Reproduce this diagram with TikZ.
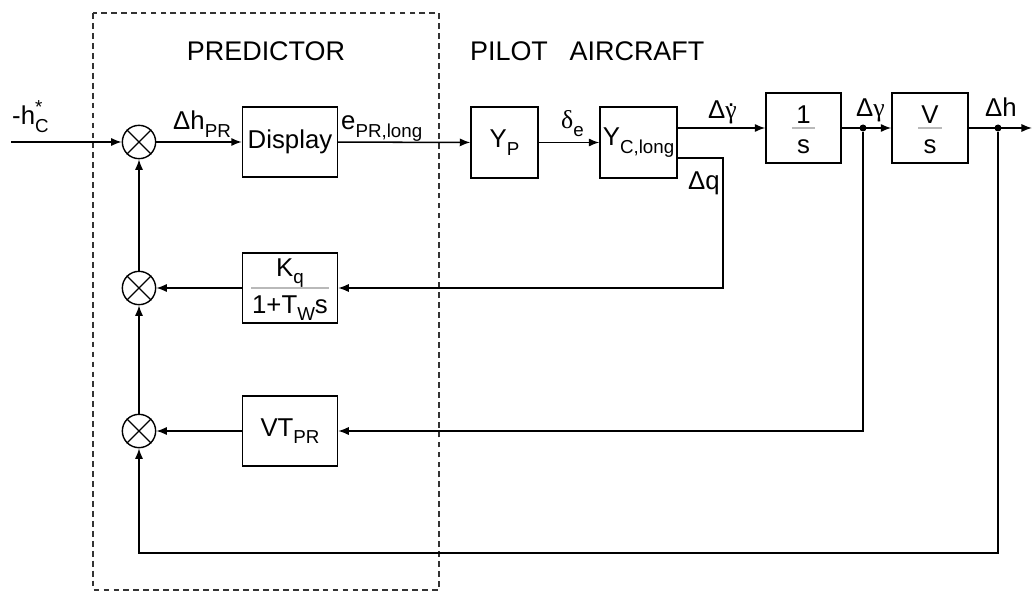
\documentclass[tikz,border=0pt]{standalone}
\usepackage{fontspec}
\setmainfont{Liberation Sans}
\newfontfamily\grk{Liberation Serif}
\usetikzlibrary{arrows.meta,positioning}

\newcommand{\lo}[1]{\raisebox{-0.3em}{\fontsize{16}{16}\selectfont #1}}
\newcommand{\hi}[1]{\raisebox{0.45em}{\fontsize{16}{16}\selectfont #1}}
\newcommand{\gdot}{\ooalign{{\grk γ}\cr\hidewidth\raisebox{0.5em}{.}\hidewidth\cr}}

\tikzset{
  block/.style={draw, line width=1.2pt, inner sep=0pt, minimum width=2.85cm, minimum height=2.1cm},
  sumnode/.style={draw, circle, line width=1.2pt, inner sep=0pt, minimum size=1cm},
  tapdot/.style={circle, fill, inner sep=0pt, minimum size=0.21cm},
  sig/.style={line width=1.3pt, -{Latex[length=9pt,width=7pt]}},
  lbl/.style={anchor=base west, inner sep=0pt},
  fracbar/.style={gray!55, line width=0.9pt},
}

\begin{document}
\begin{tikzpicture}[x=0.03cm,y=-0.03cm,font=\fontsize{22}{26}\selectfont]
    \useasboundingbox (0,0) rectangle (1033,592);
    \draw[line width=1pt, dash pattern=on 5pt off 3.5pt, black!80] (93,13) rectangle (439,590);
    \node[anchor=base, font=\fontsize{23}{27}\selectfont] (pred) at (266,61) {PREDICTOR};
    \node[anchor=base, font=\fontsize{23}{27}\selectfont] (pilot) at (509,61) {PILOT};
    \node[anchor=base, font=\fontsize{23}{27}\selectfont] (acft) at (637,61) {AIRCRAFT};

    % summing junctions
    \node[sumnode] (sumA) at (139,142) {};
    \node[sumnode] (sumB) at (139,288) {};
    \node[sumnode] (sumC) at (139,431) {};
    \foreach \s in {sumA,sumB,sumC} {
        \draw[line width=1.1pt] (\s.north west) -- (\s.south east) (\s.north east) -- (\s.south west);
    }

    % blocks
    \node[block] (disp) at (290,142) {Display};
    \node[block] (kq) at (290,288) {};
    \node[anchor=base] (kqnum) at (290,276) {K\lo{q}};
    \node[anchor=base] (kqden) at (290,313) {1+T\lo{W}s};
    \draw[fracbar] ([xshift=-1.16cm]kq.center) -- ([xshift=1.16cm]kq.center);
    \node[block] (vtpr) at (290,431) {VT\lo{PR}};
    \node[block, minimum width=2.01cm, minimum height=2.13cm] (yp) at (504.5,142.5) {Y\lo{P}};
    \node[block, minimum width=2.31cm, minimum height=2.13cm] (yc) at (638.5,142.5) {Y\lo{C,long}};
    \node[block, minimum width=2.25cm] (integ) at (803.5,128) {};
    \node[anchor=base] (integnum) at (803.5,124) {1};
    \node[anchor=base] (integden) at (803.5,154) {s};
    \draw[fracbar] ([xshift=-0.35cm]integ.center) -- ([xshift=0.35cm]integ.center);
    \node[block, minimum width=2.28cm] (vs) at (930,128) {};
    \node[anchor=base] (vsnum) at (930,124) {V};
    \node[anchor=base] (vsden) at (930,154) {s};
    \draw[fracbar] ([xshift=-0.35cm]vs.center) -- ([xshift=0.35cm]vs.center);

    \node[tapdot] (gtap) at (863,128) {};
    \node[tapdot] (htap) at (998,128) {};
    \coordinate (hin) at (11,142);
    \coordinate (hout) at (1032,128);
    \coordinate (qturn) at (723,288);
    \coordinate (hturn) at (139,553);

    % signals
    \draw[sig] (hin) -- (sumA);
    \draw[sig] (sumA) -- (disp);
    \draw[sig] (disp) -- (yp);
    \draw[sig] (yp) -- (yc);
    \draw[sig] (yc.east |- integ.west) -- (integ.west);
    \draw[sig] (integ) -- (vs);
    \draw[sig] (vs) -- (hout);
    \draw[sig] ([yshift=-0.47cm]yc.east) -| (qturn) -- (kq);
    \draw[sig] (gtap) |- (vtpr);
    \draw[sig] (htap) |- (hturn) -- (sumC);
    \draw[sig] (kq) -- (sumB);
    \draw[sig] (vtpr) -- (sumC);
    \draw[sig] (sumC) -- (sumB);
    \draw[sig] (sumB) -- (sumA);

    % signal labels
    \node[lbl] (hcmd) at (12,125) {-h\rlap{\hi{*}}\lo{C}};
    \node[lbl] (dhpr) at (173,130) {Δh\lo{PR}};
    \node[lbl] (epr) at (341,130) {e\lo{PR,long}};
    \node[lbl] (dele) at (561,129) {{\grk δ}\lo{e}};
    \node[lbl] (dgdot) at (708,119) {Δ\gdot};
    \node[lbl] (dq) at (688,189) {Δq};
    \node[lbl] (dgam) at (856,117) {Δ{\grk γ}};
    \node[lbl] (dh) at (985,117) {Δh};
\end{tikzpicture}
\end{document}
